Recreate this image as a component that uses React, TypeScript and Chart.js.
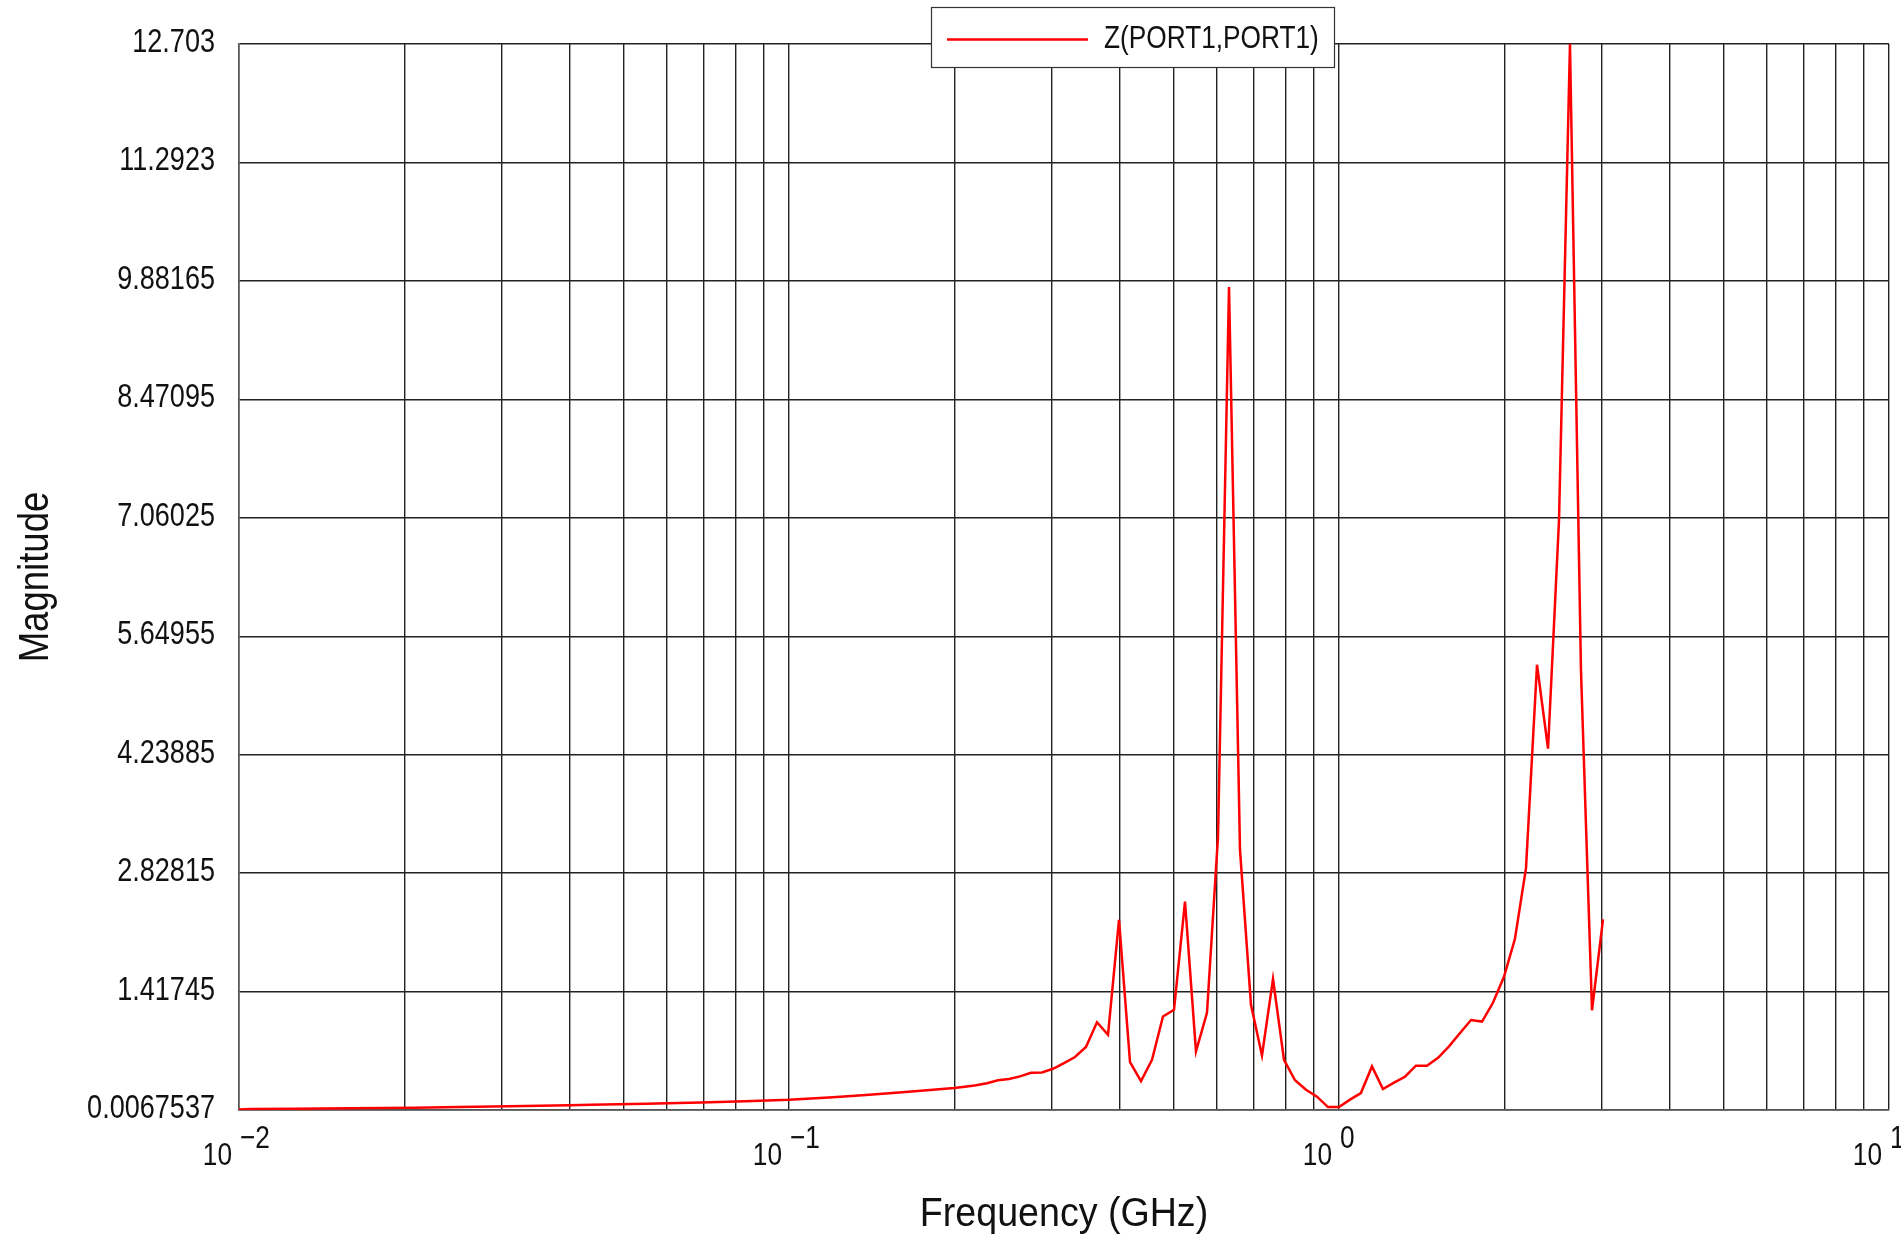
import React, { useEffect, useRef } from "react";
import { Chart, registerables } from "chart.js";

Chart.register(...registerables);

// ---- data ----
const frequencyGHz = [
  0.01, 0.01047, 0.01259, 0.01585, 0.02089, 0.02512, 0.03311, 0.03981, 0.04365, 0.05495,
  0.06918, 0.08318, 0.1, 0.1202, 0.138, 0.1585, 0.1738,
  0.1995, 0.2089, 0.2188, 0.2291, 0.2399, 0.2512, 0.263, 0.2754, 0.2884, 0.302,
  0.3162, 0.3311, 0.3467, 0.3631, 0.3802, 0.3981, 0.4169, 0.4365, 0.4571, 0.4786,
  0.5012, 0.5248, 0.5495, 0.5754, 0.6026, 0.631, 0.6607, 0.6918, 0.7244, 0.7586,
  0.7943, 0.8318, 0.871, 0.912, 0.955, 1.0, 1.047, 1.096, 1.148, 1.202,
  1.259, 1.318, 1.38, 1.445, 1.514, 1.585, 1.66, 1.738, 1.82, 1.905,
  1.995, 2.089, 2.188, 2.291, 2.399, 2.512, 2.63, 2.754, 2.884, 3.02,
];

const magnitude = [
  0.012, 0.019, 0.022, 0.027, 0.035, 0.041, 0.055, 0.064, 0.07, 0.082,
  0.097, 0.112, 0.129, 0.158, 0.185, 0.215, 0.235,
  0.269, 0.284, 0.302, 0.326, 0.361, 0.376, 0.407, 0.451, 0.454, 0.498,
  0.566, 0.638, 0.757, 1.052, 0.903, 2.272, 0.576, 0.35, 0.605, 1.12,
  1.2, 2.49, 0.704, 1.165, 3.265, 9.81, 3.105, 1.26, 0.657, 1.566,
  0.605, 0.361, 0.248, 0.165, 0.042, 0.042, 0.13, 0.209, 0.526, 0.257,
  0.332, 0.403, 0.534, 0.534, 0.629, 0.764, 0.923, 1.078, 1.06, 1.284,
  1.594, 2.046, 2.89, 5.31, 4.31, 7.03, 12.703, 5.24, 1.195, 2.278,
];

const seriesLabel = "Z(PORT1,PORT1)";
const xTitle = "Frequency (GHz)";
const yTitle = "Magnitude";

const yTickValues = [
  0.0067537, 1.41745, 2.82815, 4.23885, 5.64955, 7.06025, 8.47095, 9.88165, 11.2923, 12.703,
];
const yTickLabels = [
  "0.0067537", "1.41745", "2.82815", "4.23885", "5.64955", "7.06025", "8.47095", "9.88165", "11.2923", "12.703",
];

const xMin = 0.01;
const xMax = 10;
const xDecadeValues = [0.01, 0.1, 1, 10];
const xDecadeBase = ["10", "10", "10", "10"];
const xDecadeExponent = ["\u22122", "\u22121", "0", "1"];
const xGridMultipliers = [1, 2, 3, 4, 5, 6, 7, 8, 9];

const FONT = "'Liberation Sans', Arial, sans-serif";

function xGridValues(): number[] {
  const out: number[] = [];
  for (let d = 0; d < xDecadeValues.length; d++) {
    const dec = xDecadeValues[d];
    if (d === xDecadeValues.length - 1) {
      out.push(dec);
    } else {
      for (const m of xGridMultipliers) out.push(dec * m);
    }
  }
  return out;
}

function narrowText(
  ctx: CanvasRenderingContext2D,
  text: string,
  x: number,
  y: number,
  size: number,
  sx: number,
  align: CanvasTextAlign,
  rotate = 0
) {
  ctx.save();
  ctx.translate(x, y);
  if (rotate) ctx.rotate(rotate);
  ctx.scale(sx, 1);
  ctx.font = `${size}px ${FONT}`;
  ctx.textAlign = align;
  ctx.textBaseline = "alphabetic";
  ctx.fillStyle = "#111";
  ctx.fillText(text, 0, 0);
  ctx.restore();
}

const overlayPlugin = {
  id: "overlay",
  afterDraw(chart: any) {
    const ctx = chart.ctx as CanvasRenderingContext2D;
    const xs = chart.scales.x;
    const ys = chart.scales.y;
    const area = chart.chartArea;

    // y tick labels
    for (let i = 0; i < yTickValues.length; i++) {
      const py = ys.getPixelForValue(yTickValues[i]);
      narrowText(ctx, yTickLabels[i], area.left - 24, py + 8, 33, 0.82, "right");
    }

    // x decade labels: "10" with raised exponent
    for (let i = 0; i < xDecadeValues.length; i++) {
      const px = xs.getPixelForValue(xDecadeValues[i]);
      narrowText(ctx, xDecadeBase[i], px - 7, area.bottom + 55, 32, 0.82, "right");
      narrowText(ctx, xDecadeExponent[i], px + 1, area.bottom + 38, 32, 0.82, "left");
    }

    // axis titles
    narrowText(ctx, xTitle, (area.left + area.right) / 2, 1226, 40, 0.94, "center");
    narrowText(ctx, yTitle, 48, (area.top + area.bottom) / 2, 42, 0.87, "center", -Math.PI / 2);

    // legend box
    const ds = chart.data.datasets[0];
    const bx = 931.5, by = 7.5, bw = 403, bh = 60;
    ctx.save();
    ctx.fillStyle = "#fff";
    ctx.fillRect(bx, by, bw, bh);
    ctx.strokeStyle = "#333";
    ctx.lineWidth = 1.2;
    ctx.strokeRect(bx, by, bw, bh);
    ctx.strokeStyle = ds.borderColor;
    ctx.lineWidth = 2.5;
    ctx.beginPath();
    ctx.moveTo(947, 39.5);
    ctx.lineTo(1088, 39.5);
    ctx.stroke();
    ctx.restore();
    narrowText(ctx, ds.label, 1104, 48, 32, 0.82, "left");
  },
};

export default function App() {
  const canvasRef = useRef<HTMLCanvasElement | null>(null);

  useEffect(() => {
    if (!canvasRef.current) return;
    const points = frequencyGHz.map((f, i) => ({ x: f, y: magnitude[i] }));
    const gridColor = "#222";
    const chart = new Chart(canvasRef.current, {
      type: "line",
      data: {
        datasets: [
          {
            label: seriesLabel,
            data: points,
            borderColor: "#ff0000",
            backgroundColor: "#ff0000",
            borderWidth: 2.5,
            pointRadius: 0,
            tension: 0,
            fill: false,
          },
        ],
      },
      options: {
        animation: false,
        responsive: true,
        maintainAspectRatio: false,
        layout: { padding: { top: 44, right: 12, left: 0, bottom: 0 } },
        plugins: {
          legend: { display: false },
          tooltip: { enabled: false },
          title: { display: false },
        },
        scales: {
          x: {
            type: "logarithmic",
            min: xMin,
            max: xMax,
            afterBuildTicks: (s: any) => {
              s.ticks = xGridValues().map((v) => ({ value: v }));
            },
            afterFit: (s: any) => {
              s.height = 129;
            },
            ticks: { display: false, autoSkip: false },
            grid: { color: gridColor, lineWidth: 1.4, drawTicks: false },
            border: { display: true, color: "#555", width: 1.5 },
            title: { display: false, text: xTitle },
          },
          y: {
            type: "linear",
            min: yTickValues[0],
            max: yTickValues[yTickValues.length - 1],
            afterBuildTicks: (s: any) => {
              s.ticks = yTickValues.map((v) => ({ value: v }));
            },
            afterFit: (s: any) => {
              s.width = 239;
            },
            ticks: { display: false, autoSkip: false },
            grid: { color: gridColor, lineWidth: 1.4, drawTicks: false },
            border: { display: true, color: "#555", width: 1.5 },
            title: { display: false, text: yTitle },
          },
        },
      },
      plugins: [overlayPlugin],
    });
    return () => chart.destroy();
  }, []);

  return (
    <div
      style={{
        position: "fixed",
        left: 0,
        top: 0,
        width: "1901px",
        height: "1239px",
        background: "#fff",
      }}
    >
      <canvas ref={canvasRef} />
    </div>
  );
}
